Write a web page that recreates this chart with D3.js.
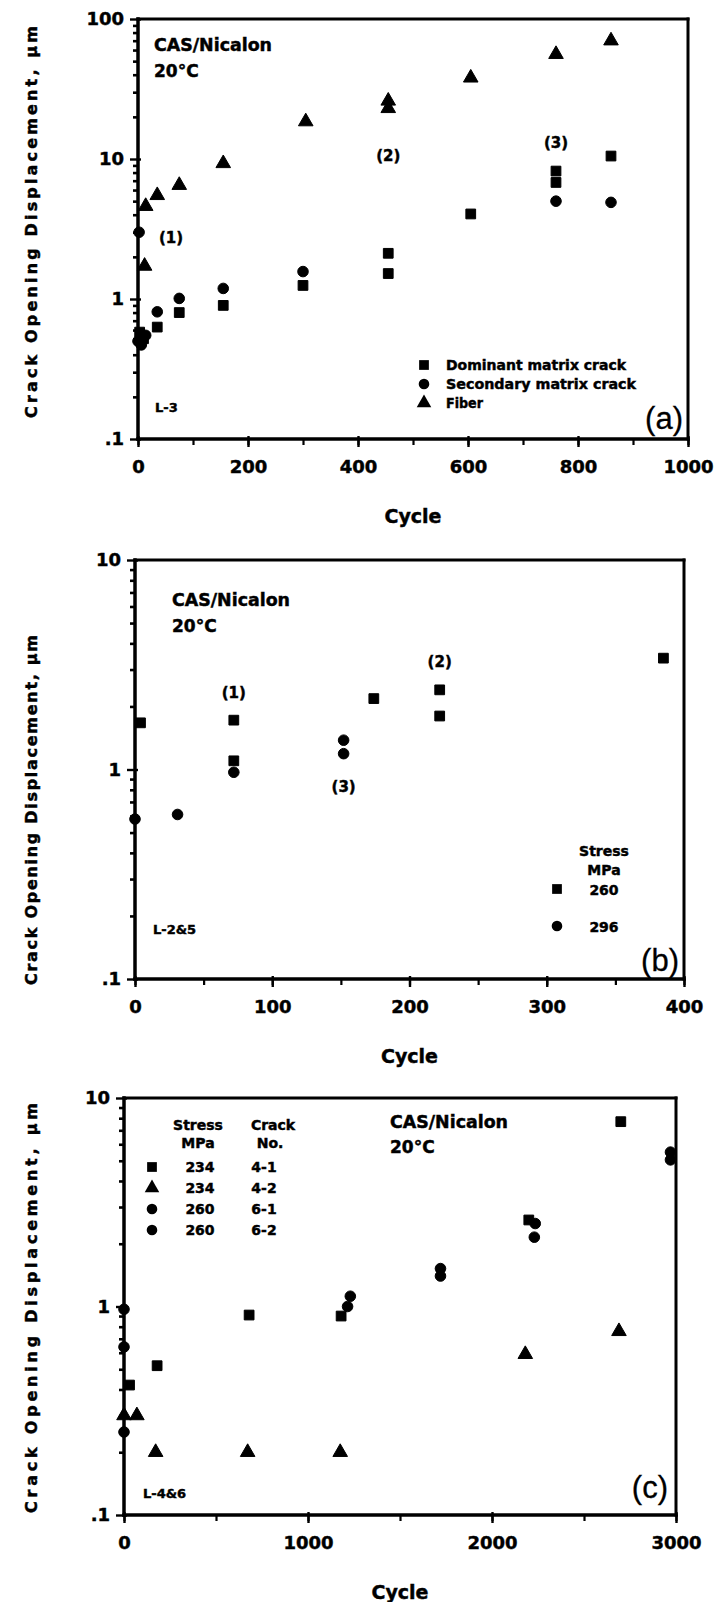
<!DOCTYPE html>
<html>
<head>
<meta charset="utf-8">
<script src="https://cdn.jsdelivr.net/npm/d3@7"></script>
<style>
  html, body { margin: 0; padding: 0; background: #fff; }
  svg { display: block; }
  text { font-family: "DejaVu Sans", sans-serif; font-weight: bold; fill: #000; stroke: #000; stroke-width: 0.45px; }
  text.panel-tag { font-family: "Liberation Sans", Arial, sans-serif; font-weight: normal; stroke-width: 0.3px; }
</style>
</head>
<body>
<svg id="chart" width="717" height="1602"></svg>
<script>
// ---------- Panel (a): specimen L-3 ----------
const aDominantCycle = [3, 10, 35, 75, 155, 300, 455, 455, 605, 760, 760, 860];
const aDominantCOD   = [0.58, 0.52, 0.63, 0.80, 0.90, 1.25, 1.52, 2.12, 4.05, 6.8, 8.2, 10.5];
const aSecondaryCycle = [0, 6, 14, 2, 35, 75, 155, 300, 760, 860];
const aSecondaryCOD   = [0.50, 0.47, 0.55, 3.0, 0.81, 1.01, 1.19, 1.57, 5.0, 4.9];
const aFiberCycle = [12, 14, 35, 75, 155, 305, 455, 455, 605, 760, 860];
const aFiberCOD   = [1.72, 4.6, 5.5, 6.5, 9.3, 18.5, 23, 26, 38, 56, 70];
const aLegend = ["Dominant matrix crack", "Secondary matrix crack", "Fiber"];
const aXTicks = [0, 200, 400, 600, 800, 1000];
const aYTicks = [0.1, 1, 10, 100];

// ---------- Panel (b): specimens L-2 & L-5 ----------
const b260Cycle = [4, 72, 72, 174, 222, 222, 385];
const b260COD   = [1.67, 1.72, 1.10, 2.18, 2.40, 1.80, 3.40];
const b296Cycle = [0, 31, 72, 152, 152];
const b296COD   = [0.58, 0.61, 0.97, 1.38, 1.19];
const bLegendStress = ["260", "296"];
const bXTicks = [0, 100, 200, 300, 400];
const bYTicks = [0.1, 1, 10];

// ---------- Panel (c): specimens L-4 & L-6 ----------
const c41Cycle = [30, 180, 680, 1180, 2200, 2700];
const c41COD   = [0.42, 0.52, 0.91, 0.90, 2.60, 7.7];
const c42Cycle = [0, 70, 172, 672, 1175, 2181, 2690];
const c42COD   = [0.30, 0.30, 0.20, 0.20, 0.20, 0.59, 0.76];
const c61Cycle = [0, 1230, 1720, 2235, 2970];
const c61COD   = [0.97, 1.12, 1.52, 2.50, 5.5];
const c62Cycle = [0, 0, 1215, 1720, 2230, 2970];
const c62COD   = [0.64, 0.25, 1.00, 1.40, 2.15, 5.05];
const cLegendStress = ["234", "234", "260", "260"];
const cLegendCrack  = ["4-1", "4-2", "6-1", "6-2"];
const cXTicks = [0, 1000, 2000, 3000];
const cYTicks = [0.1, 1, 10];

const svg = d3.select("#chart");

const SYM = {
  square:   d3.symbol().type(d3.symbolSquare).size(95),
  circle:   d3.symbol().type(d3.symbolCircle).size(88),
  triangle: d3.symbol().type(d3.symbolTriangle).size(92)
};

function fmtY(d) { return d < 1 ? ".1" : String(d); }

function logMinor(domain) {
  const out = [];
  for (let dec = domain[0]; dec < domain[1] - 1e-9; dec *= 10) {
    for (let k = 2; k <= 9; k++) out.push(dec * k);
  }
  return out;
}

function drawPanel(cfg) {
  const g = svg.append("g");
  const x = d3.scaleLinear().domain(cfg.xDomain).range([cfg.left, cfg.right]);
  const y = d3.scaleLog().domain(cfg.yDomain).range([cfg.bottom, cfg.top]);

  // x axis: minor ticks, then major ticks with labels
  const xMinor = d3.range(cfg.xDomain[0], cfg.xDomain[1] + 1e-9, cfg.xMinorStep);
  g.append("g").attr("transform", `translate(0,${cfg.bottom})`)
    .call(d3.axisBottom(x).tickValues(xMinor).tickSize(6).tickFormat(""))
    .call(a => a.select(".domain").remove())
    .call(a => a.selectAll("line").attr("stroke", "#000").attr("stroke-width", 2.2));
  g.append("g").attr("transform", `translate(0,${cfg.bottom})`)
    .call(d3.axisBottom(x).tickValues(cfg.xTicks).tickSize(8).tickPadding(13).tickFormat(d3.format("d")))
    .call(a => a.select(".domain").remove())
    .call(a => a.selectAll("line").attr("stroke", "#000").attr("stroke-width", 2.4).attr("y1", -3))
    .call(a => a.selectAll("text").attr("font-size", 18).attr("fill", "#000"));

  // y axis: log minor ticks and labelled decades
  g.append("g").attr("transform", `translate(${cfg.left},0)`)
    .call(d3.axisLeft(y).tickValues(logMinor(cfg.yDomain)).tickSize(5).tickFormat(""))
    .call(a => a.select(".domain").remove())
    .call(a => a.selectAll("line").attr("stroke", "#000").attr("stroke-width", 2.6));
  g.append("g").attr("transform", `translate(${cfg.left},0)`)
    .call(d3.axisLeft(y).tickValues(cfg.yTicks).tickSize(8).tickPadding(6).tickFormat(fmtY))
    .call(a => a.select(".domain").remove())
    .call(a => a.selectAll("line").attr("stroke", "#000").attr("stroke-width", 2.4).attr("x1", 3))
    .call(a => a.selectAll("text").attr("font-size", 18).attr("fill", "#000"));

  // frame
  const fr = g.append("g").attr("stroke", "#000").attr("fill", "none").attr("stroke-linecap", "square");
  fr.append("line").attr("x1", cfg.left).attr("x2", cfg.right).attr("y1", cfg.top).attr("y2", cfg.top).attr("stroke-width", 3);
  fr.append("line").attr("x1", cfg.right).attr("x2", cfg.right).attr("y1", cfg.top).attr("y2", cfg.bottom).attr("stroke-width", 3);
  fr.append("line").attr("x1", cfg.left).attr("x2", cfg.right).attr("y1", cfg.bottom).attr("y2", cfg.bottom).attr("stroke-width", 3.5);
  fr.append("line").attr("x1", cfg.left).attr("x2", cfg.left).attr("y1", cfg.top).attr("y2", cfg.bottom).attr("stroke-width", 3.5);

  // data markers
  cfg.series.forEach(s => {
    const pts = s.cycles.map((c, i) => [c, s.cod[i]]);
    g.append("g").selectAll("path").data(pts).join("path")
      .attr("d", SYM[s.symbol])
      .attr("transform", d => `translate(${x(d[0])},${y(d[1])})`)
      .attr("fill", "#000").attr("stroke", "#000").attr("stroke-width", 1).attr("stroke-linejoin", "round");
  });

  // axis titles
  g.append("text").attr("x", (cfg.left + cfg.right) / 2).attr("y", cfg.bottom + 84)
    .attr("text-anchor", "middle").attr("font-size", 19).text("Cycle");
  g.append("text")
    .attr("transform", `translate(37,${cfg.yTitleY}) rotate(-90)`)
    .attr("text-anchor", "middle").attr("font-size", 16)
    .attr("textLength", cfg.yTitleLen).attr("lengthAdjust", "spacing")
    .text("Crack Opening Displacement, \u00b5m");

  return { g, x, y };
}

function txt(g, x, y, s, size, anchor, opts = {}) {
  const t = g.append("text").attr("x", x).attr("y", y).attr("font-size", size)
    .attr("text-anchor", anchor || "start").text(s);
  if (opts.len) t.attr("textLength", opts.len).attr("lengthAdjust", "spacingAndGlyphs");
  if (opts.cls) t.attr("class", opts.cls);
  return t;
}

// ---------- (a) ----------
const A = drawPanel({
  left: 138, right: 688, top: 19, bottom: 439,
  xDomain: [0, 1000], yDomain: [0.1, 100], xTicks: aXTicks, xMinorStep: 100, yTicks: aYTicks,
  yTitleY: 222, yTitleLen: 392,
  series: [
    { cycles: aDominantCycle, cod: aDominantCOD, symbol: "square" },
    { cycles: aSecondaryCycle, cod: aSecondaryCOD, symbol: "circle" },
    { cycles: aFiberCycle, cod: aFiberCOD, symbol: "triangle" }
  ]
});
txt(A.g, 154, 51, "CAS/Nicalon", 17, "start", { len: 118 });
txt(A.g, 154, 77, "20\u00b0C", 17, "start");
txt(A.g, A.x(60), A.y(2.75) + 6, "(1)", 15, "middle");
txt(A.g, A.x(455), A.y(10.6) + 6, "(2)", 15, "middle");
txt(A.g, A.x(760), A.y(13.2) + 6, "(3)", 15, "middle");
["square", "circle", "triangle"].forEach((s, i) => {
  const yy = 365 + i * 19;
  A.g.append("path").attr("d", SYM[s]).attr("transform", `translate(424,${yy})`).attr("fill", "#000");
  txt(A.g, 446, yy + 5, aLegend[i], 14, "start", { len: [180, 190, 37][i] });
});
txt(A.g, 155, 412, "L-3", 13, "start");
txt(A.g, 683, 429, "(a)", 31, "end", { cls: "panel-tag" });

// ---------- (b) ----------
const B = drawPanel({
  left: 135, right: 684, top: 560, bottom: 979,
  xDomain: [0, 400], yDomain: [0.1, 10], xTicks: bXTicks, xMinorStep: 50, yTicks: bYTicks,
  yTitleY: 810, yTitleLen: 350,
  series: [
    { cycles: b260Cycle, cod: b260COD, symbol: "square" },
    { cycles: b296Cycle, cod: b296COD, symbol: "circle" }
  ]
});
txt(B.g, 172, 606, "CAS/Nicalon", 17, "start", { len: 118 });
txt(B.g, 172, 632, "20\u00b0C", 17, "start");
txt(B.g, B.x(72), B.y(2.35) + 6, "(1)", 15, "middle");
txt(B.g, B.x(222), B.y(3.3) + 6, "(2)", 15, "middle");
txt(B.g, B.x(152), B.y(0.83) + 6, "(3)", 15, "middle");
txt(B.g, 604, 856, "Stress", 14, "middle");
txt(B.g, 604, 875, "MPa", 14, "middle");
["square", "circle"].forEach((s, i) => {
  const yy = 889 + i * 37;
  B.g.append("path").attr("d", SYM[s]).attr("transform", `translate(557,${yy})`).attr("fill", "#000");
  txt(B.g, 604, yy + 6, bLegendStress[i], 14, "middle");
});
txt(B.g, 153, 934, "L-2&5", 13, "start");
txt(B.g, 679, 971, "(b)", 31, "end", { cls: "panel-tag" });

// ---------- (c) ----------
const C = drawPanel({
  left: 124, right: 676, top: 1098, bottom: 1515,
  xDomain: [0, 3000], yDomain: [0.1, 10], xTicks: cXTicks, xMinorStep: 500, yTicks: cYTicks,
  yTitleY: 1308, yTitleLen: 410,
  series: [
    { cycles: c41Cycle, cod: c41COD, symbol: "square" },
    { cycles: c42Cycle, cod: c42COD, symbol: "triangle" },
    { cycles: c61Cycle, cod: c61COD, symbol: "circle" },
    { cycles: c62Cycle, cod: c62COD, symbol: "circle" }
  ]
});
txt(C.g, 390, 1128, "CAS/Nicalon", 17, "start", { len: 118 });
txt(C.g, 390, 1153, "20\u00b0C", 17, "start");
txt(C.g, 198, 1130, "Stress", 14, "middle");
txt(C.g, 273, 1130, "Crack", 14, "middle");
txt(C.g, 198, 1148, "MPa", 14, "middle");
txt(C.g, 270, 1148, "No.", 14, "middle");
["square", "triangle", "circle", "circle"].forEach((s, i) => {
  const yy = 1167 + i * 21;
  C.g.append("path").attr("d", SYM[s]).attr("transform", `translate(152,${yy})`).attr("fill", "#000");
  txt(C.g, 200, yy + 5, cLegendStress[i], 14, "middle");
  txt(C.g, 264, yy + 5, cLegendCrack[i], 14, "middle");
});
txt(C.g, 143, 1498, "L-4&6", 13, "start");
txt(C.g, 668, 1498, "(c)", 31, "end", { cls: "panel-tag" });
</script>
</body>
</html>
